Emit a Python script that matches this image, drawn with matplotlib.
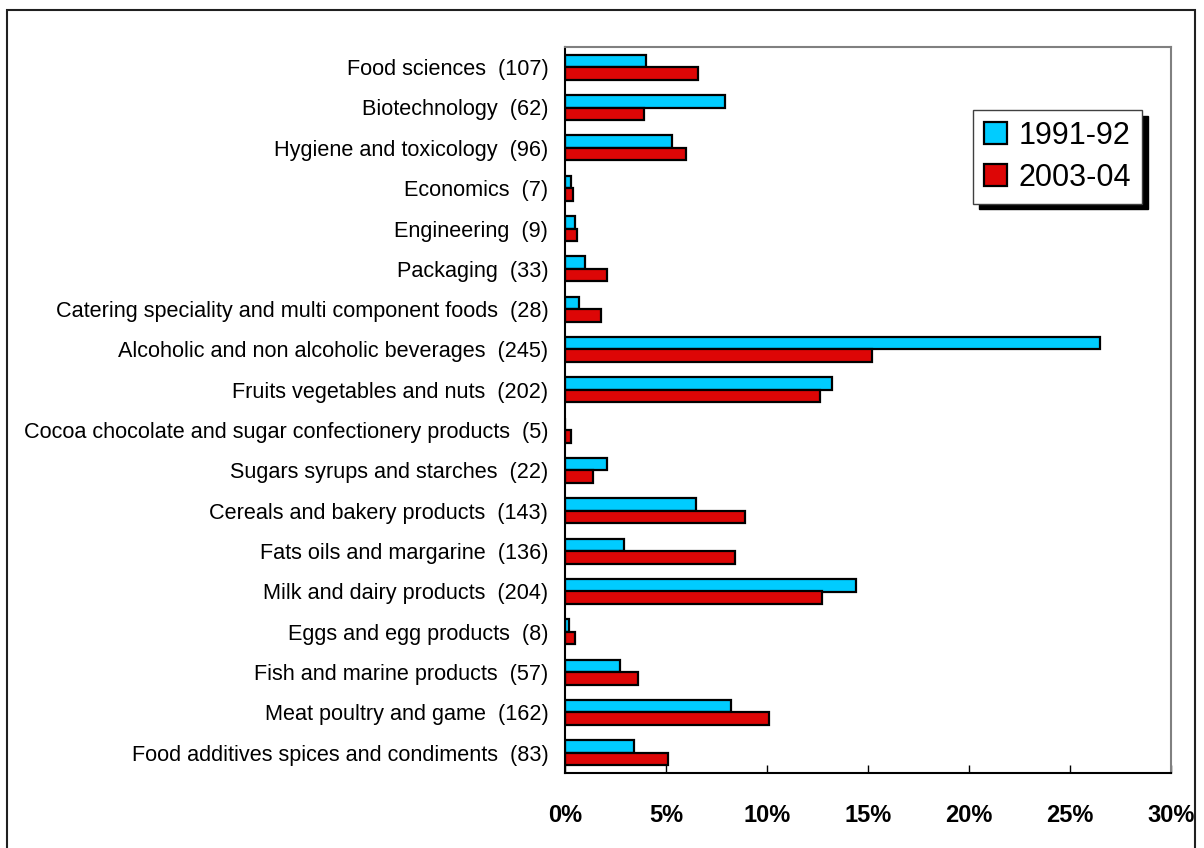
import matplotlib.pyplot as plt
import numpy as np
from matplotlib.patches import Rectangle

plt.rcParams['font.family'] = ['Liberation Sans', 'DejaVu Sans']

categories = [
    "Food sciences  (107)",
    "Biotechnology  (62)",
    "Hygiene and toxicology  (96)",
    "Economics  (7)",
    "Engineering  (9)",
    "Packaging  (33)",
    "Catering speciality and multi component foods  (28)",
    "Alcoholic and non alcoholic beverages  (245)",
    "Fruits vegetables and nuts  (202)",
    "Cocoa chocolate and sugar confectionery products  (5)",
    "Sugars syrups and starches  (22)",
    "Cereals and bakery products  (143)",
    "Fats oils and margarine  (136)",
    "Milk and dairy products  (204)",
    "Eggs and egg products  (8)",
    "Fish and marine products  (57)",
    "Meat poultry and game  (162)",
    "Food additives spices and condiments  (83)",
]

# percent of papers
y1991 = [4.0, 7.9, 5.3, 0.3, 0.5, 1.0, 0.7, 26.5, 13.2, 0.0,
         2.1, 6.5, 2.9, 14.4, 0.2, 2.7, 8.2, 3.4]
y2003 = [6.6, 3.9, 6.0, 0.4, 0.6, 2.1, 1.8, 15.2, 12.6, 0.3,
         1.4, 8.9, 8.4, 12.7, 0.5, 3.6, 10.1, 5.1]

labels = ["1991-92", "2003-04"]
xticks = [0, 5, 10, 15, 20, 25, 30]

fig = plt.figure(figsize=(12.04, 8.48), dpi=100)
ax = fig.add_axes([565 / 1204, 1 - 773 / 848, 606 / 1204, 726 / 848])

pos = np.arange(len(categories))
h = 0.31
ax.barh(pos - h / 2, y1991, height=h, color='#00CCFF', edgecolor='black',
        linewidth=1.6, label=labels[0])
ax.barh(pos + h / 2, y2003, height=h, color='#DD0606', edgecolor='black',
        linewidth=1.6, label=labels[1])

ax.set_ylim(len(categories) - 0.5, -0.5)
ax.set_xlim(0, 30)
ax.set_yticks(pos)
ax.set_yticklabels(categories, fontsize=15.6)
ax.tick_params(axis='y', length=0, pad=12)
ax.set_xticks(xticks)
ax.set_xticklabels([f"{t}%" for t in xticks], fontsize=17, fontweight='bold')
ax.tick_params(axis='x', direction='in', length=6, width=1, pad=22)

ax.spines['left'].set_linewidth(1.5)
ax.spines['bottom'].set_linewidth(1.5)
ax.spines['top'].set_color('#808080')
ax.spines['right'].set_color('#808080')
ax.spines['top'].set_linewidth(1.5)
ax.spines['right'].set_linewidth(1.5)

leg = ax.legend(loc='upper left', bbox_to_anchor=(973 / 1204, 1 - 110 / 848),
                bbox_transform=fig.transFigure, borderaxespad=0, fontsize=22,
                fancybox=False, edgecolor='#404040', framealpha=1,
                handlelength=0.75, handleheight=0.75, handletextpad=0.4,
                labelspacing=0.4, borderpad=0.35,
                shadow={'color': 'black', 'alpha': 1, 'ox': 4, 'oy': -4})
leg.get_frame().set_linewidth(1)

# outer chart frame
fig.add_artist(Rectangle((7 / 1204, -0.1), 1188 / 1204, 1.1 - 10 / 848,
                         transform=fig.transFigure, fill=False,
                         edgecolor='#202020', linewidth=1.5))

fig.savefig('out.png', dpi=100)
